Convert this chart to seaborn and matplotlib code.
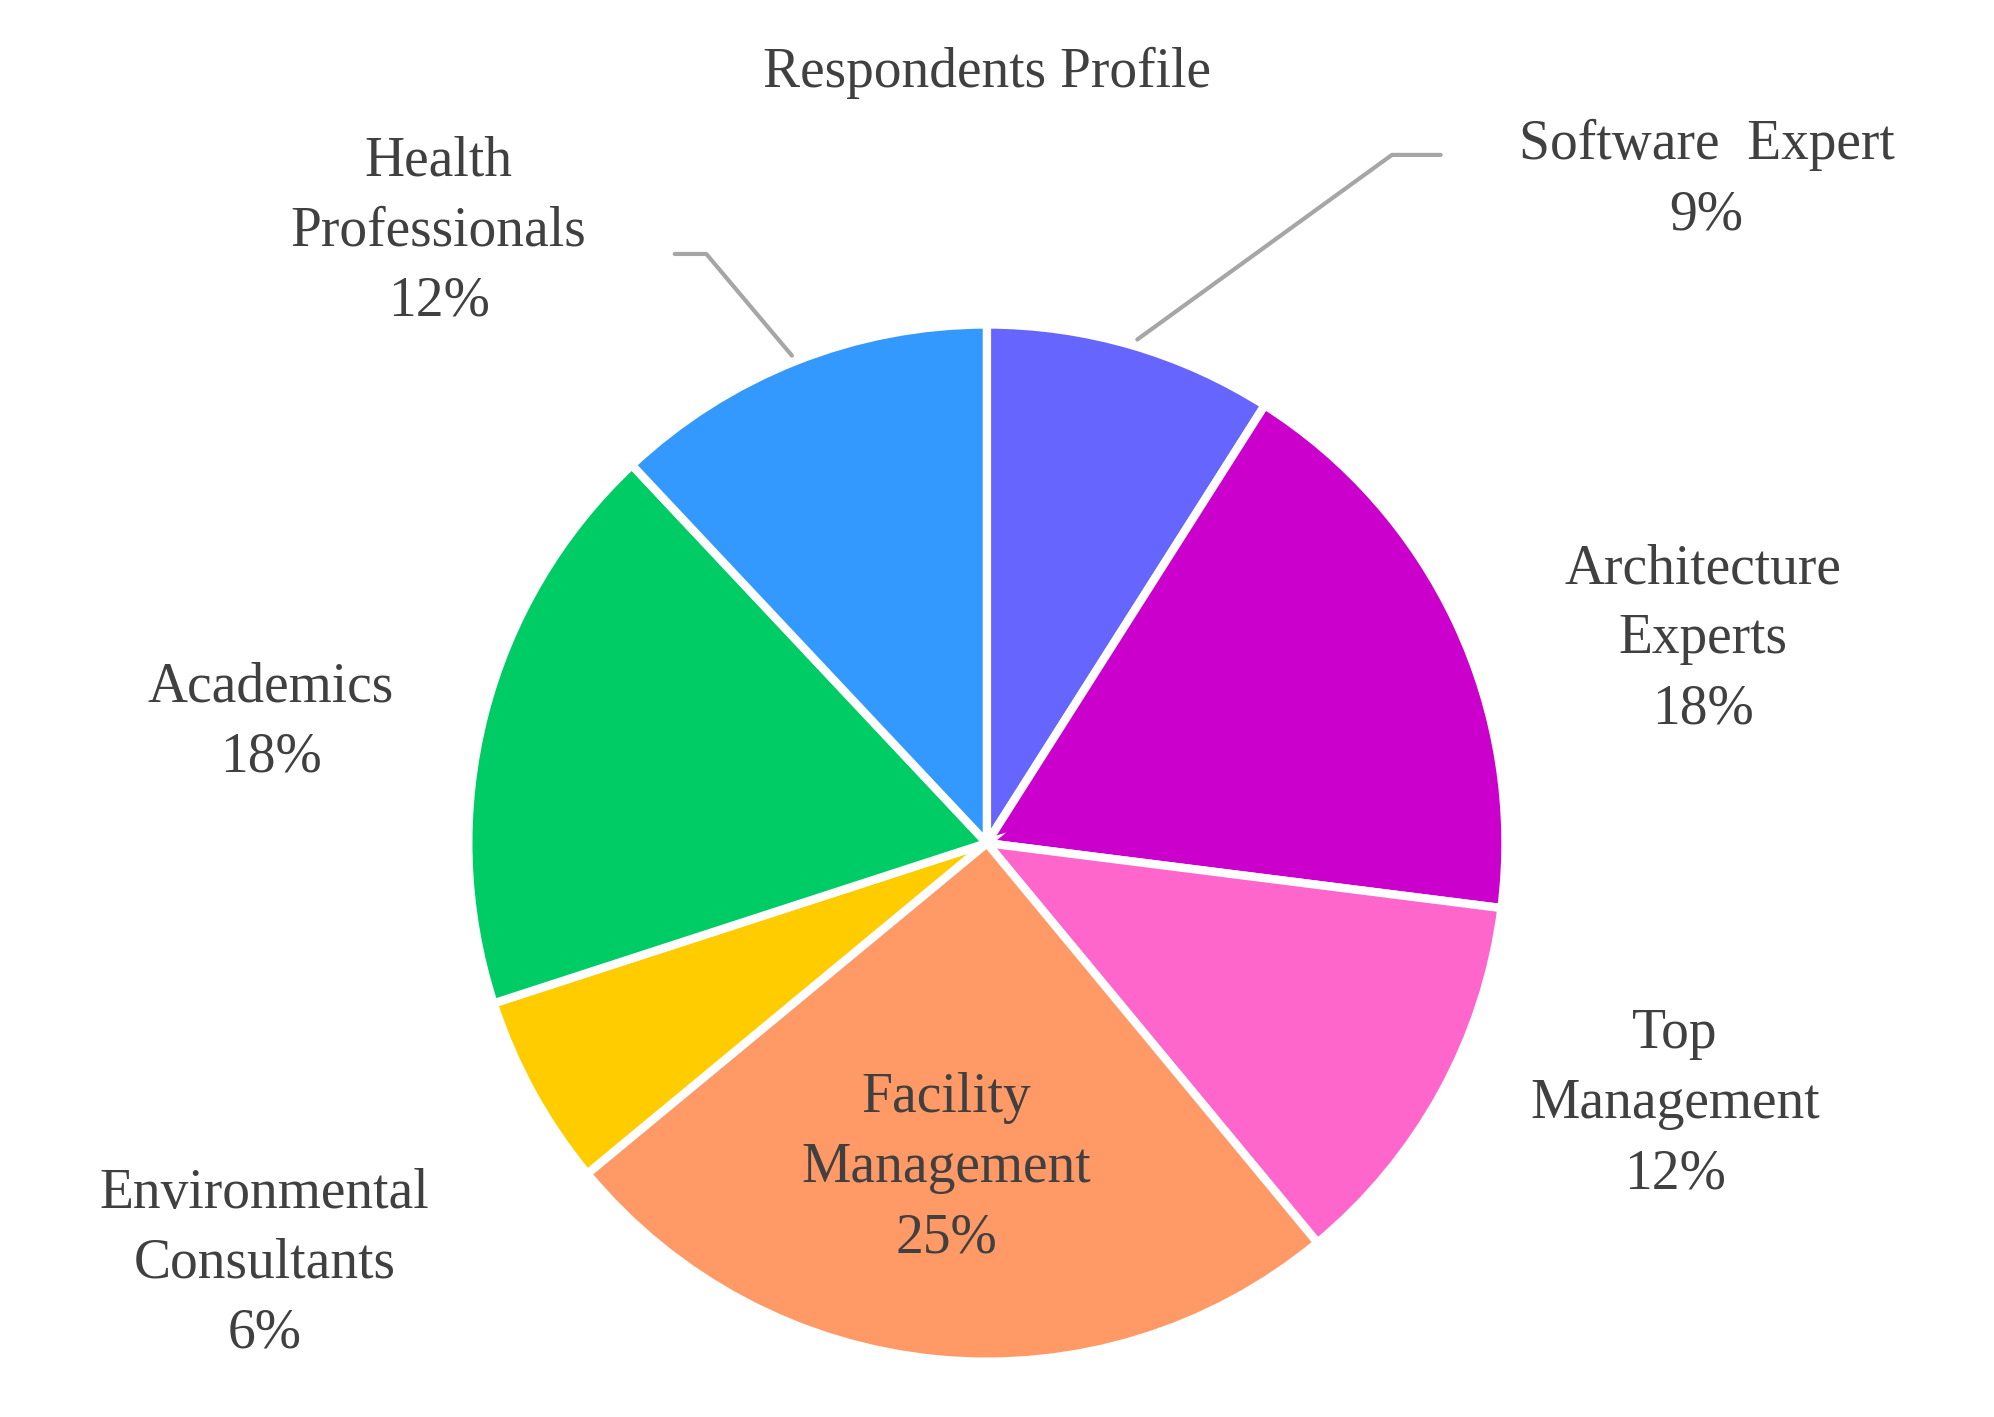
import matplotlib
matplotlib.use("Agg")
import matplotlib.pyplot as plt
import seaborn as sns

categories = ["Software  Expert", "Architecture\nExperts", "Top\nManagement", "Facility\nManagement",
              "Environmental\nConsultants", "Academics", "Health\nProfessionals"]
values = [9, 18, 12, 25, 6, 18, 12]
colors = ["#6666FF", "#CC00CC", "#FF66CC", "#FF9966", "#FFCC00", "#00CC66", "#3399FF"]
label_pos = [(1.388, 1.278), (1.381, 0.393), (1.327, -0.504), (-0.079, -0.627),
             (-1.393, -0.811), (-1.381, 0.233), (-1.057, 1.179)]

sns.set_theme(style="white")
plt.rcParams['font.family'] = ['Liberation Serif', 'DejaVu Serif']
fig = plt.figure(figsize=(19.94, 14.17), dpi=100)
ax = fig.add_axes([0, 0, 1, 1])
ax.pie(values, colors=colors, startangle=90, counterclock=False, radius=1.0,
       wedgeprops=dict(edgecolor="white", linewidth=6))
ax.set_xlim(-1.903, 1.942)
ax.set_ylim(-1.104, 1.623)
ax.set_aspect("equal")
ax.axis("off")

tc = "#404040"
for cat, v, (x, y) in zip(categories, values, label_pos):
    ax.text(x, y, f"{cat}\n{v}%", ha="center", va="center", fontsize=40,
            color=tc, linespacing=1.45)
ax.text(0, 1.486, "Respondents Profile", ha="center", va="center", fontsize=40, color=tc)

# leader lines
ax.plot([0.875, 0.781, 0.290], [1.327, 1.327, 0.971], color="#A6A6A6", lw=3)
ax.plot([-0.602, -0.541, -0.376], [1.136, 1.136, 0.940], color="#A6A6A6", lw=3)

fig.savefig("out.png", dpi=100)
